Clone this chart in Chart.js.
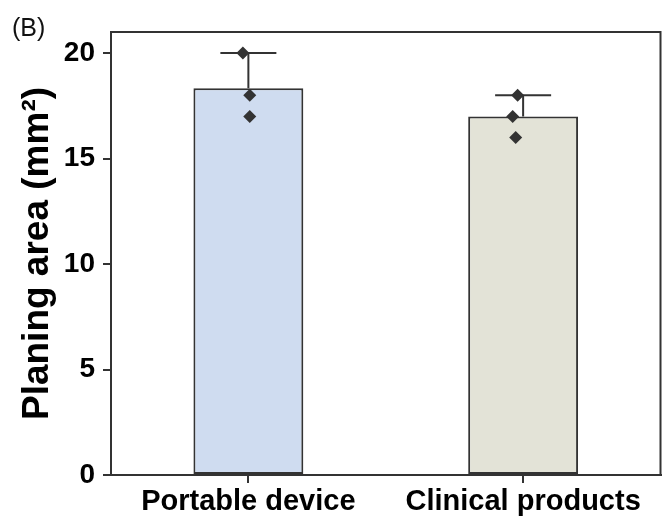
<!DOCTYPE html>
<html>
<head>
<meta charset="utf-8">
<script src="https://cdn.jsdelivr.net/npm/chart.js@4/dist/chart.umd.min.js"></script>
<style>
  html, body { margin: 0; padding: 0; background: #fff; }
  #wrap { width: 667px; height: 519px; position: relative; }
</style>
</head>
<body>
<div id="wrap"><canvas id="chartBars"></canvas></div>
<script>
const categories = ['Portable device', 'Clinical products'];
const meanValues = [18.33, 17.0];
const errorTop = [20.0, 18.0];
// individual measurements, x is category index plus a small jitter
const pointsPortable = [{ x: -0.02, y: 20 }, { x: 0.005, y: 18 }, { x: 0.005, y: 17 }];
const pointsClinical = [{ x: 0.98, y: 18 }, { x: 0.962, y: 17 }, { x: 0.973, y: 16 }];
const yTicks = [0, 5, 10, 15, 20];

const barFills = ['#cfdcf0', '#e3e3d7'];
const darkGray = '#333333';
const fontFamily = '"Liberation Sans", Arial, Helvetica, sans-serif';

const errorBarPlugin = {
  id: 'errorBars',
  afterDatasetDraw(chart, args) {
    if (args.index !== 0) return;
    const ctx = chart.ctx;
    const yScale = chart.scales.y;
    ctx.save();
    ctx.strokeStyle = darkGray;
    ctx.lineWidth = 2;
    args.meta.data.forEach((bar, i) => {
      const x = bar.x;
      const yTop = yScale.getPixelForValue(errorTop[i]);
      const yMean = yScale.getPixelForValue(meanValues[i]);
      ctx.beginPath();
      ctx.moveTo(x, yMean);
      ctx.lineTo(x, yTop);
      ctx.moveTo(x - 28, yTop);
      ctx.lineTo(x + 28, yTop);
      ctx.stroke();
    });
    ctx.restore();
  }
};

const framePlugin = {
  id: 'frame',
  afterDraw(chart) {
    const { ctx, chartArea } = chart;
    ctx.save();
    ctx.strokeStyle = darkGray;
    ctx.lineWidth = 2;
    ctx.beginPath();
    ctx.moveTo(chartArea.left, chartArea.top);
    ctx.lineTo(chartArea.right, chartArea.top);
    ctx.lineTo(chartArea.right, chartArea.bottom);
    ctx.stroke();
    ctx.fillStyle = '#111';
    ctx.font = '25px ' + fontFamily;
    ctx.textBaseline = 'alphabetic';
    ctx.fillText('(B)', 12, 36);
    ctx.restore();
  }
};

const canvasBars = document.getElementById('chartBars');
new Chart(canvasBars, {
  data: {
    labels: categories,
    datasets: [
      {
        type: 'bar',
        data: meanValues,
        backgroundColor: barFills,
        borderColor: darkGray,
        borderWidth: 2,
        borderSkipped: false,
        grouped: false,
        barPercentage: 0.4,
        categoryPercentage: 1,
        order: 2
      },
      {
        type: 'scatter',
        data: pointsPortable.concat(pointsClinical),
        xAxisID: 'xj',
        pointStyle: 'rectRot',
        pointRadius: 6.5,
        backgroundColor: darkGray,
        borderColor: darkGray,
        borderWidth: 0,
        order: 1
      }
    ]
  },
  options: {
    responsive: true,
    maintainAspectRatio: false,
    animation: false,
    layout: { padding: { top: 32, right: 5, bottom: 0, left: 0 } },
    plugins: {
      legend: { display: false },
      tooltip: { enabled: false }
    },
    scales: {
      x: {
        type: 'category',
        offset: true,
        afterFit: (s) => { s.height = 44; },
        grid: { display: true, drawOnChartArea: false, tickLength: 8, color: darkGray, lineWidth: 2, offset: false },
        border: { display: true, color: darkGray, width: 2 },
        ticks: { color: '#000', padding: 2, font: { family: fontFamily, size: 29, weight: 'bold' } }
      },
      xj: {
        type: 'linear',
        display: false,
        min: -0.5,
        max: 1.5
      },
      y: {
        min: 0,
        max: 21,
        afterFit: (s) => { s.width = 111; },
        afterBuildTicks: (s) => { s.ticks = yTicks.map(v => ({ value: v })); },
        grid: { display: true, drawOnChartArea: false, tickLength: 8, color: darkGray, lineWidth: 2 },
        border: { display: true, color: darkGray, width: 2 },
        ticks: { color: '#000', padding: 8, font: { family: fontFamily, size: 28, weight: 'bold' } },
        title: {
          display: true,
          text: 'Planing area (mm²)',
          color: '#000',
          padding: { top: 16, bottom: 0 },
          font: { family: fontFamily, size: 37, weight: 'bold' }
        }
      }
    }
  },
  plugins: [errorBarPlugin, framePlugin]
});
</script>
</body>
</html>
